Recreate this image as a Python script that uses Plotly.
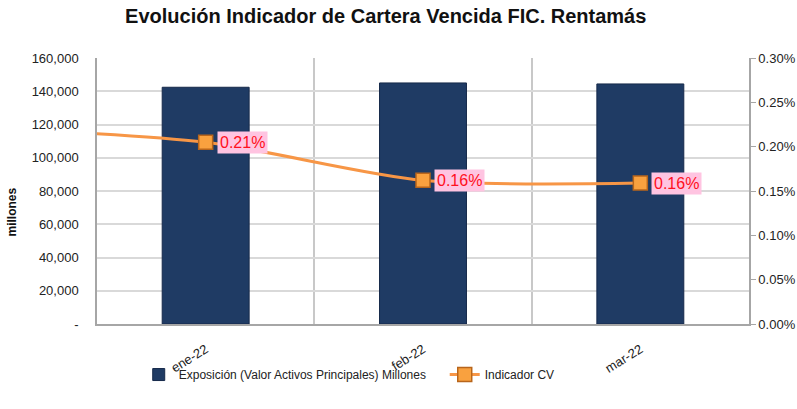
import plotly.graph_objects as go

categories = ["ene-22", "feb-22", "mar-22"]
exposicion = [142400, 145000, 144400]
indicador_cv = [0.00205, 0.00162, 0.00159]
indicador_prev = 0.00221  # prior month (dic-21), only seen as line entering from the left
cv_labels = ["0.21%", "0.16%", "0.16%"]
left_ticks = [0, 20000, 40000, 60000, 80000, 100000, 120000, 140000, 160000]
left_ticktext = ["-", "20,000", "40,000", "60,000", "80,000", "100,000", "120,000", "140,000", "160,000"]

FONT = "Liberation Sans, Arial, sans-serif"
ORANGE = "#F79646"
xpos = list(range(len(categories)))
marker_style = dict(symbol="square", size=14, color="#F9A13F", line=dict(color="#B8651B", width=1.5))

fig = go.Figure()
fig.add_trace(go.Bar(
    x=xpos, y=exposicion, width=0.4,
    name="Exposición (Valor Activos Principales) Millones",
    marker=dict(color="#1F3B64", line=dict(color="#16294A", width=1)),
    yaxis="y",
))
# smooth line (including the prior month entering from the left edge)
fig.add_trace(go.Scatter(
    x=[-1] + xpos, y=[indicador_prev] + indicador_cv,
    mode="lines", line=dict(color=ORANGE, width=3, shape="spline", smoothing=0.8),
    yaxis="y2", showlegend=False, hoverinfo="skip",
))
# markers
fig.add_trace(go.Scatter(
    x=xpos, y=indicador_cv, mode="markers", marker=marker_style,
    yaxis="y2", showlegend=False, name="Indicador CV",
))
# legend entry (line + marker), its single point lies outside the visible range
fig.add_trace(go.Scatter(
    x=[-1], y=[indicador_prev], name="Indicador CV",
    mode="lines+markers", line=dict(color=ORANGE, width=3), marker=marker_style,
    yaxis="y2", hoverinfo="skip",
))

for i, (v, t) in enumerate(zip(indicador_cv, cv_labels)):
    fig.add_annotation(
        x=xpos[i], y=v, xref="x", yref="y2", text=t, showarrow=False,
        xanchor="left", yanchor="middle", xshift=11,
        font=dict(family=FONT, size=16, color="#FF1020"),
        bgcolor="#FFC4E1", borderpad=2,
    )

fig.add_annotation(
    x=-0.13, y=0.42, xref="paper", yref="paper", text="<b>millones</b>", textangle=-90,
    showarrow=False, xanchor="center", yanchor="middle",
    font=dict(family=FONT, size=12, color="#111111"),
)

fig.update_layout(
    width=797, height=409,
    margin=dict(l=97, r=48, t=58, b=85, autoexpand=False),
    paper_bgcolor="white", plot_bgcolor="white",
    font=dict(family=FONT, size=13, color="#333333"),
    title=dict(text="<b>Evolución Indicador de Cartera Vencida FIC. Rentamás</b>",
               x=0.484, xanchor="center", y=0.962, yanchor="middle",
               font=dict(family=FONT, size=20, color="#111111")),
    xaxis=dict(
        range=[-0.5, 2.5], tickvals=xpos, ticktext=categories, tickangle=-32,
        showgrid=False, showline=True, linecolor="#A6A6A6", linewidth=1.5,
        ticks="", tickfont=dict(size=13, color="#222222"), ticklabelstandoff=11,
        minor=dict(tickvals=[0.5, 1.5], showgrid=True, gridcolor="#C8C8C8", gridwidth=1.5, ticks=""),
        zeroline=False, automargin=False,
    ),
    yaxis=dict(
        range=[0, 160000], tickvals=left_ticks, ticktext=left_ticktext,
        showgrid=True, gridcolor="#D9D9D9", gridwidth=1.5,
        showline=True, linecolor="#A6A6A6", linewidth=1.5, ticks="",
        tickfont=dict(size=13, color="#222222"), zeroline=False, ticklabelstandoff=14,
        automargin=False,
    ),
    yaxis2=dict(
        range=[0, 0.003], dtick=0.0005, tickformat=".2%", overlaying="y", side="right",
        showgrid=False, showline=True, linecolor="#A6A6A6", linewidth=1.5,
        ticks="outside", ticklen=5, tickcolor="#A6A6A6",
        tickfont=dict(size=13, color="#222222"), zeroline=False, automargin=False,
    ),
    legend=dict(orientation="h", x=0.064, xanchor="left", y=-0.19, yanchor="middle",
                font=dict(size=12, color="#222222"), traceorder="normal",
                entrywidth=261, bgcolor="rgba(0,0,0,0)"),
    bargap=0.6, showlegend=True,
)
fig.write_html("out.html", config={"displayModeBar": False},
               post_script="document.body.style.margin='0';document.body.style.overflow='hidden';")
